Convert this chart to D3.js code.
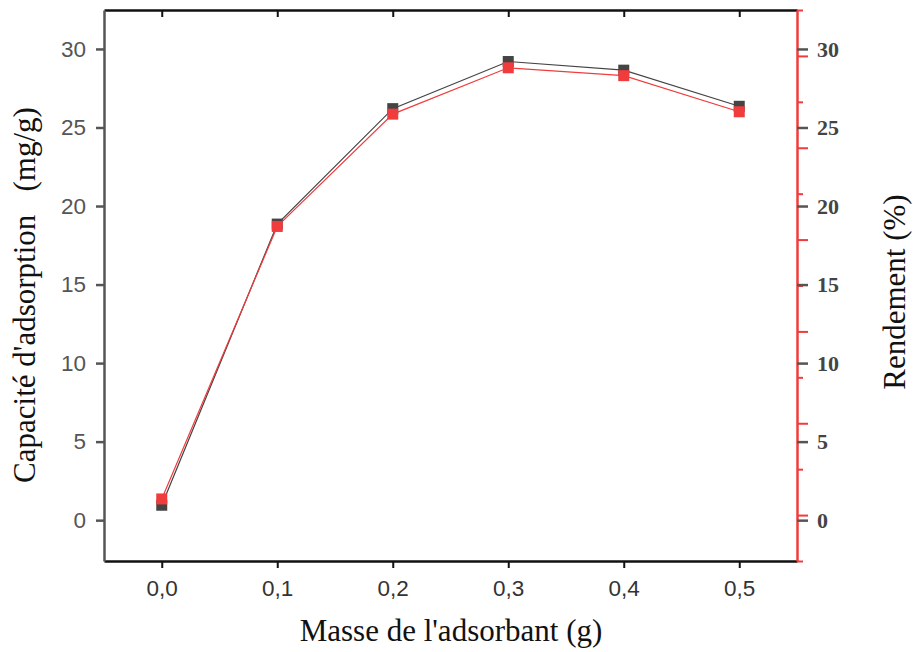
<!DOCTYPE html>
<html><head><meta charset="utf-8">
<script src="https://cdn.jsdelivr.net/npm/d3@7"></script>
<style>body{margin:0;background:#fff}svg{display:block}</style>
</head><body>
<script>
const masses = [0.0, 0.1, 0.2, 0.3, 0.4, 0.5];
const capacite = [0.95, 18.85, 26.2, 29.2, 28.65, 26.35];
const rendement = [1.35, 18.7, 25.85, 28.8, 28.3, 26.0];
const xTicks = [0.0, 0.1, 0.2, 0.3, 0.4, 0.5];
const yTicks = [0, 5, 10, 15, 20, 25, 30];
const redMajor = [0, 5, 10, 15, 20, 25];
const redMinor = [-2.5, 2.5, 7.5, 12.5, 17.5, 22.5, 27.5];

const W = 913, H = 652;
const L = 104, R = 797, T = 10, B = 561;
const svg = d3.select("body").append("svg").attr("width", W).attr("height", H);

const x = d3.scaleLinear().domain([-0.05, 0.55]).range([L, R]);
const y = d3.scaleLinear().domain([-2.6, 32.48]).range([B, T]);
const yr = d3.scaleLinear().domain([-2.5, 27.5]).range([B, T]);
const fmt = d => d3.format(".1f")(d).replace(".", ",");
const SANS = "'Liberation Sans', Arial, sans-serif";
const SERIF = "'Liberation Serif', 'Times New Roman', serif";

// bottom axis
const gb = svg.append("g").attr("transform", `translate(0,${B})`)
  .call(d3.axisBottom(x).tickValues(xTicks).tickFormat(fmt).tickSize(7).tickSizeOuter(0).tickPadding(12));
gb.select(".domain").attr("stroke", "#111").attr("stroke-width", 2.5);
gb.selectAll(".tick line").attr("stroke", "#111").attr("stroke-width", 2);
gb.selectAll(".tick text").attr("font-family", SANS).attr("font-size", 22.5).attr("fill", "#333");

// top axis
const gt = svg.append("g").attr("transform", `translate(0,${T})`)
  .call(d3.axisTop(x).tickValues(xTicks).tickFormat("").tickSize(-7).tickSizeOuter(0));
gt.select(".domain").attr("stroke", "#111").attr("stroke-width", 2.5);
gt.selectAll(".tick line").attr("stroke", "#111").attr("stroke-width", 2);

// left axis
const gl = svg.append("g").attr("transform", `translate(${L},0)`)
  .call(d3.axisLeft(y).tickValues(yTicks).tickSize(8).tickSizeOuter(0).tickPadding(10));
gl.select(".domain").attr("stroke", "#555").attr("stroke-width", 2.5);
gl.selectAll(".tick line").attr("stroke", "#555").attr("stroke-width", 2.5);
gl.selectAll(".tick text").attr("font-family", SANS).attr("font-size", 22.5).attr("fill", "#555");

// right axis (red scale, minor + major)
const gr = svg.append("g").attr("transform", `translate(${R},0)`);
gr.call(d3.axisRight(yr).tickValues(redMinor).tickFormat("").tickSize(6).tickSizeOuter(0));
gr.select(".domain").attr("stroke", "#f03c3c").attr("stroke-width", 2.5);
gr.selectAll(".tick line").attr("stroke", "#f03c3c").attr("stroke-width", 2);
const gr2 = svg.append("g").attr("transform", `translate(${R},0)`)
  .call(d3.axisRight(yr).tickValues(redMajor).tickFormat("").tickSize(11).tickSizeOuter(0));
gr2.select(".domain").remove();
gr2.selectAll(".tick line").attr("stroke", "#f03c3c").attr("stroke-width", 2);
// right labels (gray, matching left scale)
const gr3 = svg.append("g").attr("transform", `translate(${R},0)`)
  .call(d3.axisRight(y).tickValues(yTicks).tickSize(11).tickSizeOuter(0).tickPadding(9));
gr3.select(".domain").remove();
gr3.selectAll(".tick line").attr("stroke", "#555").attr("stroke-width", 2.5);
gr3.selectAll(".tick text").attr("font-family", SERIF).attr("font-weight", "bold").attr("font-size", 22).attr("fill", "#444");

// lines
const line = d3.line().x((d, i) => x(masses[i])).y(d => y(d));
svg.append("path").datum(capacite).attr("d", line).attr("fill", "none").attr("stroke", "#444").attr("stroke-width", 1.2);
svg.append("path").datum(rendement).attr("d", line).attr("fill", "none").attr("stroke", "#f03c3c").attr("stroke-width", 1.2);

// markers
const s = 11;
svg.append("g").selectAll("rect").data(capacite).join("rect")
  .attr("x", (d, i) => x(masses[i]) - s / 2).attr("y", d => y(d) - s / 2)
  .attr("width", s).attr("height", s).attr("fill", "#444");
svg.append("g").selectAll("rect").data(rendement).join("rect")
  .attr("x", (d, i) => x(masses[i]) - s / 2).attr("y", d => y(d) - s / 2)
  .attr("width", s).attr("height", s).attr("fill", "#f03c3c");

// axis titles
svg.append("text").attr("x", 451).attr("y", 641).attr("text-anchor", "middle")
  .attr("font-family", SERIF).attr("font-size", 31).attr("fill", "#111")
  .text("Masse de l'adsorbant (g)");
svg.append("text").attr("transform", `translate(35,295) rotate(-90)`).attr("text-anchor", "middle")
  .attr("font-family", SERIF).attr("font-size", 31).attr("fill", "#111")
  .attr("xml:space", "preserve").style("white-space", "pre")
  .text("Capacité d'adsorption   (mg/g)");
svg.append("text").attr("transform", `translate(905,292) rotate(-90)`).attr("text-anchor", "middle")
  .attr("font-family", SERIF).attr("font-size", 31).attr("fill", "#111")
  .text("Rendement (%)");
</script>
</body></html>
